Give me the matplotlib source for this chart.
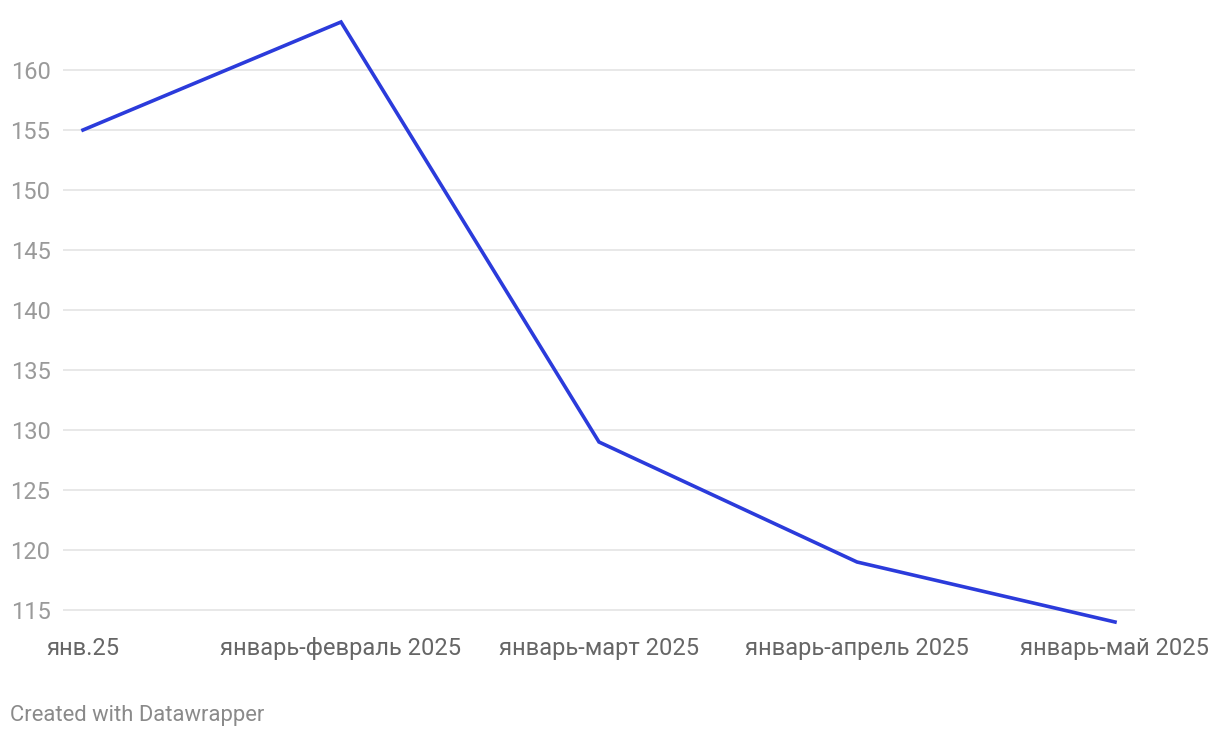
import matplotlib
matplotlib.use("Agg")
import matplotlib.pyplot as plt

categories = ["янв.25", "январь-февраль 2025", "январь-март 2025", "январь-апрель 2025", "январь-май 2025"]
values = [155, 164, 129, 119, 114]
yticks = [115, 120, 125, 130, 135, 140, 145, 150, 155, 160]

plt.rcParams['font.family'] = ['Roboto', 'DejaVu Sans']

W, H = 1220, 738
fig = plt.figure(figsize=(W/100, H/100), dpi=100)
left, right, top, bottom = 63, 1135, 16, 634
ax = fig.add_axes([left/W, 1-bottom/H, (right-left)/W, (bottom-top)/H])

x = list(range(len(categories)))
ax.plot(x, values, color="#2b3bdb", lw=2.6, solid_joinstyle='miter', zorder=3)

ax.set_xlim(-20/258, 4 + 20/258)
ax.set_ylim(113, 164.5)
ax.set_yticks(yticks)
ax.yaxis.grid(True, color="#e2e2e2", lw=1.1)
ax.set_axisbelow(True)
for s in ax.spines.values():
    s.set_visible(False)
ax.tick_params(axis='y', length=0, pad=9, labelsize=17, labelcolor="#9a9a9a")
ax.tick_params(axis='x', length=0, pad=2, labelsize=17, labelcolor="#666666")
ax.set_xticks(x)
ax.set_xticklabels(categories)

fig.text(10/W, 1-715/H, "Created with Datawrapper", fontsize=15.8, color="#8a8a8a", va='center', ha='left')

fig.savefig("out.png", dpi=100, facecolor="white")
